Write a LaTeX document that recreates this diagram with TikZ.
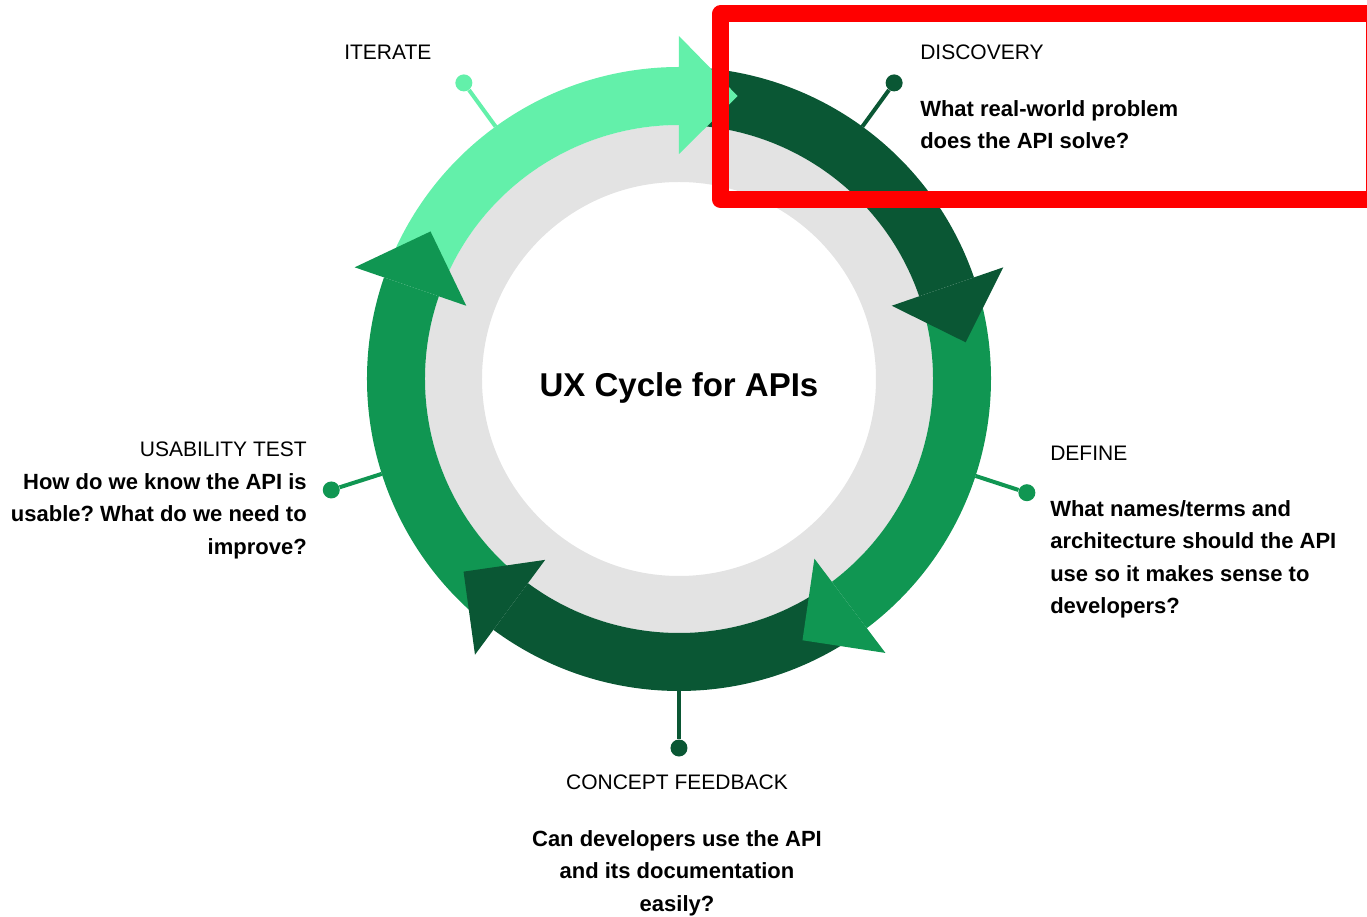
\documentclass[tikz,border=0pt]{standalone}
\usepackage{fontspec}
\setmainfont{Liberation Sans}
\frenchspacing
\definecolor{mint}{HTML}{63F0AA}
\definecolor{leaf}{HTML}{109652}
\definecolor{forest}{HTML}{0A5734}
\definecolor{ringgray}{HTML}{E3E3E3}
\definecolor{markred}{HTML}{FF0000}
\tikzset{
  pindot/.style={circle,fill,inner sep=0pt,minimum size=12.75pt},
  pinline/.style={line width=3pt},
  stage/.style={font=\fontsize{15.75}{24.4}\selectfont,inner sep=0pt},
  question/.style={font=\fontsize{16.5}{24.4}\selectfont\bfseries,inner sep=0pt},
}
\begin{document}
\begin{tikzpicture}[x=.75pt,y=.75pt]
\useasboundingbox (-679,-538) rectangle (688,379);
\fill[ringgray,even odd rule] (0,0) circle (254) (0,0) circle (197);
% ring bands
\fill[mint] (159:312) arc[start angle=159,end angle=90,radius=312] -- (90:254) arc[start angle=90,end angle=159,radius=254] -- cycle;
\fill[forest] (88:312) arc[start angle=88,end angle=19,radius=312] -- (19:254) arc[start angle=19,end angle=88,radius=254] -- cycle;
\fill[leaf] (17:312) arc[start angle=17,end angle=-53,radius=312] -- (-53:254) arc[start angle=-53,end angle=17,radius=254] -- cycle;
\fill[forest] (-55:312) arc[start angle=-55,end angle=-126.5,radius=312] -- (-126.5:254) arc[start angle=-126.5,end angle=-55,radius=254] -- cycle;
\fill[leaf] (-128.5:312) arc[start angle=-128.5,end angle=-199,radius=312] -- (-199:254) arc[start angle=-199,end angle=-128.5,radius=254] -- cycle;
% heads
\fill[mint] (90:225) -- (90:343) -- (78.3:289) -- cycle;
\fill[forest] (19:225) -- (19:343) -- (7.3:289) -- cycle;
\fill[leaf] (-53:225) -- (-53:343) -- (-64.7:289) -- cycle;
\fill[forest] (-126.5:225) -- (-126.5:343) -- (-138.2:289) -- cycle;
\fill[leaf] (161:225) -- (161:343) -- (149.3:289) -- cycle;
% pins
\coordinate (iterate-foot) at (126:312);
\coordinate (discovery-foot) at (54:312);
\coordinate (define-foot) at (-18.1:312);
\coordinate (concept-foot) at (-90:312);
\coordinate (usability-foot) at (197.7:312);
\node[pindot,mint] (iterate-dot) at (126:366) {};
\node[pindot,forest] (discovery-dot) at (54:366) {};
\node[pindot,leaf] (define-dot) at (-18.1:366) {};
\node[pindot,forest] (concept-dot) at (-90:369) {};
\node[pindot,leaf] (usability-dot) at (197.7:365) {};
\draw[pinline,mint] (iterate-foot) -- (iterate-dot);
\draw[pinline,forest] (discovery-foot) -- (discovery-dot);
\draw[pinline,leaf] (define-foot) -- (define-dot);
\draw[pinline,forest] (concept-foot) -- (concept-dot);
\draw[pinline,leaf] (usability-foot) -- (usability-dot);
% texts
\node[font=\fontsize{24.75}{30}\selectfont\bfseries,inner sep=0pt,anchor=base] (title) at (0,-18) {UX Cycle for APIs};
\node[stage,anchor=base west] (iterate-lbl) at (-335,319) {ITERATE};
\node[stage,anchor=base west] (discovery-lbl) at (241,319) {DISCOVERY};
\node[question,anchor=north west,align=left] (discovery-q) at (241,279) {What real-world problem\\does the API solve?};
\node[stage,anchor=base west] (define-lbl) at (371,-82) {DEFINE};
\node[question,anchor=north west,align=left] (define-q) at (371,-121) {What names/terms and\\architecture should the API\\use so it makes sense to\\developers?};
\node[stage,anchor=base] (concept-lbl) at (-2,-410) {CONCEPT FEEDBACK};
\node[question,anchor=north,align=center] (concept-q) at (-2,-451) {Can developers use the API\\and its documentation\\easily?};
\node[stage,anchor=base east] (usability-lbl) at (-372,-78) {USABILITY TEST};
\node[question,anchor=north east,align=right] (usability-q) at (-372,-94) {How do we know the API is\\usable? What do we need to\\improve?};
% highlight box
\draw[markred,line width=12.75pt,line join=round] (41.5,365) rectangle (695.5,179.5);
\end{tikzpicture}
\end{document}
